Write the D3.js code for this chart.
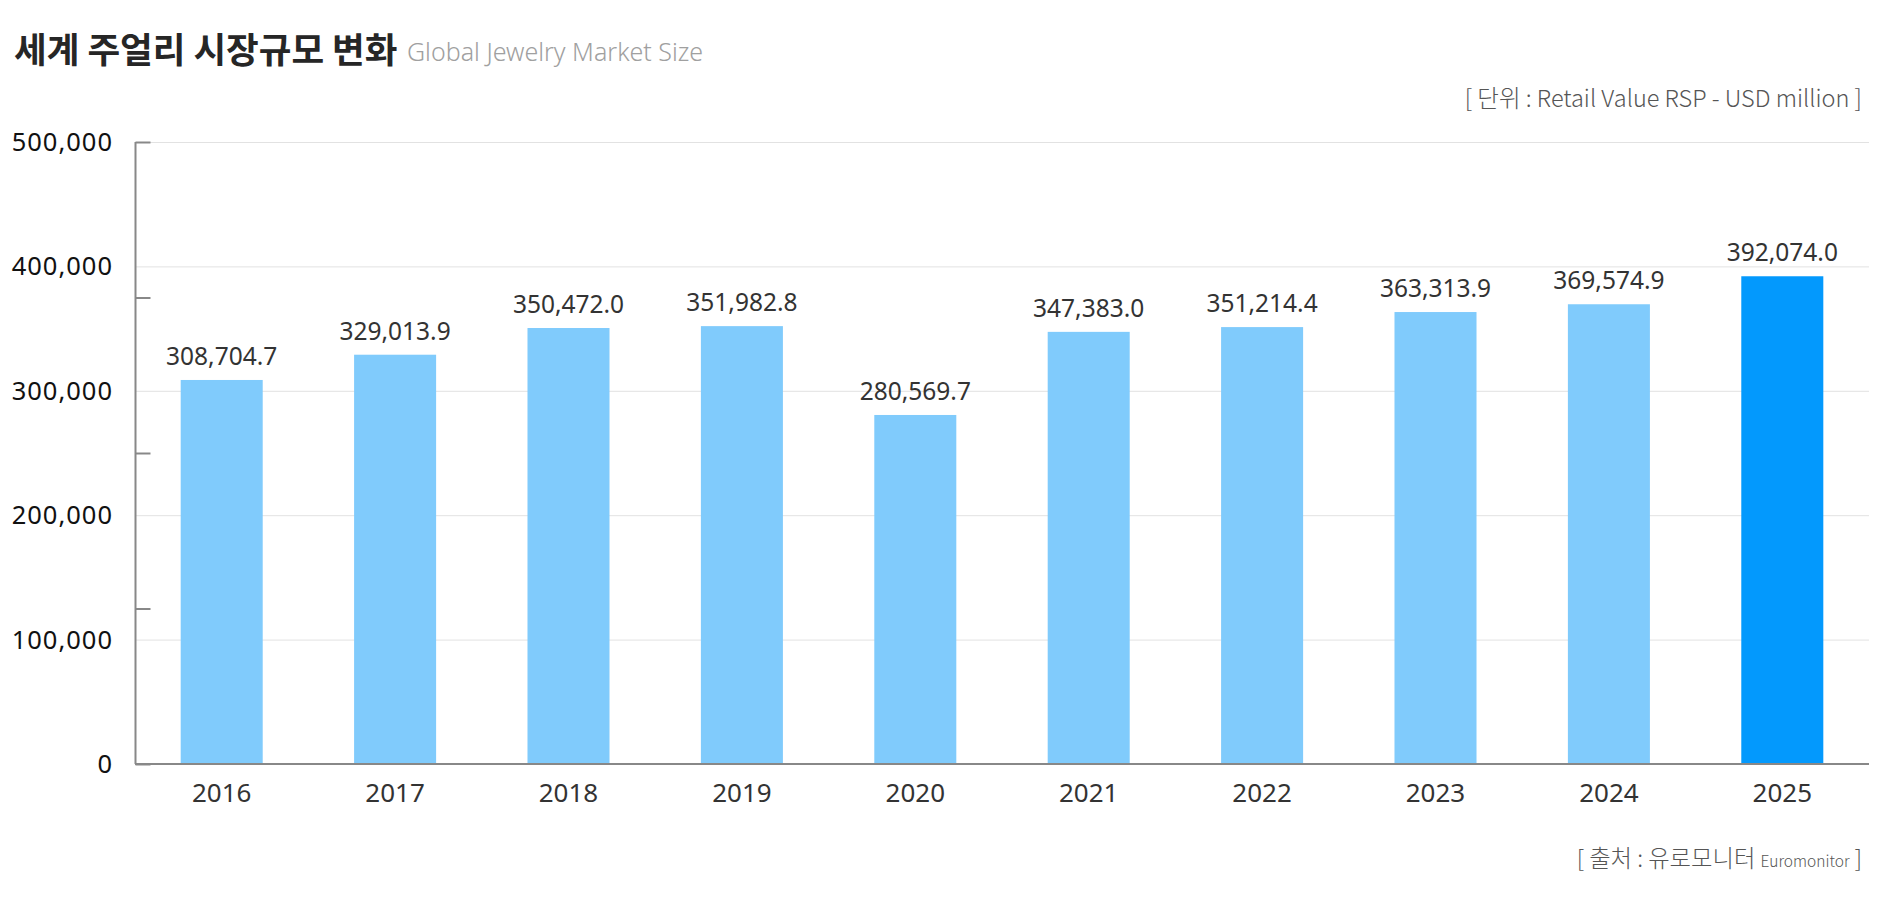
<!DOCTYPE html>
<html><head><meta charset="utf-8">
<script src="https://cdn.jsdelivr.net/npm/d3@7"></script>
<style>
html,body{margin:0;padding:0;background:#fff;}
svg{display:block;}
</style></head>
<body>
<script>
const years = ["2016","2017","2018","2019","2020","2021","2022","2023","2024","2025"];
const marketSize = [308704.7, 329013.9, 350472.0, 351982.8, 280569.7, 347383.0, 351214.4, 363313.9, 369574.9, 392074.0];
const highlightYear = "2025";
const gridTicks = [0, 100000, 200000, 300000, 400000, 500000];
const axisTickMarks = [0, 125000, 250000, 375000, 500000];
const titleText = "세계 주얼리 시장규모 변화";
const subtitleText = "Global Jewelry Market Size";
const unitText = "[ 단위 : Retail Value RSP - USD million ]";
const sourceMain = "[ 출처 : 유로모니터 ";
const sourceSmall = "Euromonitor";
const sourceEnd = " ]";

const W = 1890, H = 907;
const plotLeft = 135, plotRight = 1869, plotTop = 142, plotBottom = 764;

const svg = d3.select("body").append("svg").attr("width", W).attr("height", H);

const x = d3.scaleBand().domain(years).range([plotLeft, plotRight]).paddingInner(0.527).paddingOuter(0.2635);
const y = d3.scaleLinear().domain([0, 500000]).range([plotBottom, plotTop]);

// gridlines
svg.append("g").selectAll("line").data(gridTicks.filter(d => d > 0)).join("line")
  .attr("x1", plotLeft).attr("x2", plotRight)
  .attr("y1", d => y(d) + 0.5).attr("y2", d => y(d) + 0.5)
  .attr("stroke", "#e2e2e2").attr("stroke-width", 1);

// bars
svg.append("g").selectAll("rect").data(years).join("rect")
  .attr("x", d => x(d))
  .attr("width", x.bandwidth())
  .attr("y", (d, i) => y(marketSize[i]))
  .attr("height", (d, i) => plotBottom - y(marketSize[i]))
  .attr("fill", d => d === highlightYear ? "#0399fd" : "#80cbfc");

// value labels
const fmt = d3.format(",.1f");
svg.append("g").selectAll("text").data(years).join("text")
  .attr("x", d => x(d) + x.bandwidth() / 2)
  .attr("y", (d, i) => y(marketSize[i]) - 15)
  .attr("text-anchor", "middle")
  .attr("font-family", "'Noto Sans', sans-serif")
  .attr("font-size", 24.5)
  .attr("fill", "#333")
  .text((d, i) => fmt(marketSize[i]));

// y axis line and tick marks
const yAxis = d3.axisRight(y).tickValues(axisTickMarks).tickSize(15).tickFormat("");
const gy = svg.append("g").attr("transform", `translate(${plotLeft + 0.5},0)`).call(yAxis);
gy.select(".domain").attr("stroke", "#888").attr("stroke-width", 2).attr("d", `M0,${plotTop}V${plotBottom}`);
gy.selectAll(".tick line").attr("stroke", "#888").attr("stroke-width", 2);

// y labels
const fmtInt = d3.format(",");
svg.append("g").selectAll("text").data(gridTicks).join("text")
  .attr("x", 113)
  .attr("y", d => y(d))
  .attr("dy", "0.35em")
  .attr("text-anchor", "end")
  .attr("font-family", "'Noto Sans', sans-serif")
  .attr("font-size", 25.5)
  .attr("letter-spacing", 1)
  .attr("fill", "#111")
  .text(d => fmtInt(d));

// x axis baseline
const xAxis = d3.axisBottom(x).tickSize(0).tickPadding(38);
const gx = svg.append("g").attr("transform", `translate(0,${plotBottom})`).call(xAxis);
gx.select(".domain").attr("stroke", "#888").attr("stroke-width", 2).attr("d", `M${plotLeft},0H${plotRight}`);
gx.selectAll(".tick text")
  .attr("font-family", "'Noto Sans', sans-serif")
  .attr("font-size", 26)
  .attr("fill", "#333")
  .attr("dy", "0");

// title
svg.append("text").attr("x", 14).attr("y", 63)
  .attr("font-family", "'Noto Sans CJK KR', sans-serif")
  .attr("font-weight", 700).attr("font-size", 35.5).attr("fill", "#262626")
  .text(titleText);
svg.append("text").attr("x", 407).attr("y", 61)
  .attr("font-family", "'Noto Sans', sans-serif")
  .attr("font-weight", 300).attr("font-size", 25).attr("fill", "#a0a0a0")
  .text(subtitleText);

// unit
svg.append("text").attr("x", 1862).attr("y", 107)
  .attr("text-anchor", "end")
  .attr("font-family", "'Noto Sans CJK KR', sans-serif")
  .attr("font-weight", 300).attr("font-size", 23.5).attr("fill", "#555")
  .text(unitText);

// source
const src = svg.append("text").attr("x", 1862).attr("y", 867)
  .attr("text-anchor", "end")
  .attr("font-family", "'Noto Sans CJK KR', sans-serif")
  .attr("font-weight", 300).attr("font-size", 23.3).attr("fill", "#555");
src.append("tspan").text(sourceMain);
src.append("tspan").attr("font-size", 15.5).text(sourceSmall);
src.append("tspan").text(sourceEnd);
</script>
</body></html>
